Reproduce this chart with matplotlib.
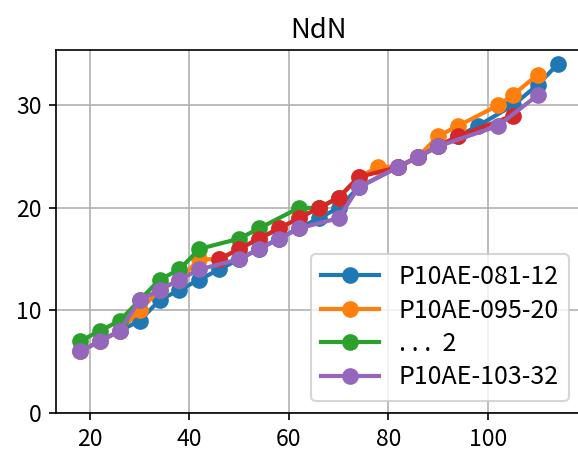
import matplotlib
matplotlib.use('Agg')
from matplotlib import pyplot as plt

plt.rcParams['font.family'] = ['Noto Sans CJK JP', 'DejaVu Sans']
plt.rcParams['font.size'] = 11

# series (x, y)
blue_x = [18, 22, 26, 30, 34, 38, 42, 46, 50, 54, 58, 62, 66, 70, 74, 82, 86, 90, 94, 98, 105, 110, 114]
blue_y = [6, 7, 8, 9, 11, 12, 13, 14, 15, 16, 17, 18, 19, 20, 22, 24, 25, 26, 27, 28, 30, 32, 34]

orange_x = [18, 22, 26, 30, 34, 38, 42, 46, 50, 54, 58, 62, 66, 70, 74, 78, 82, 86, 90, 94, 102, 105, 110]
orange_y = [6, 7, 8, 10, 12, 13, 15, 15, 16, 17, 18, 19, 20, 21, 23, 24, 24, 25, 27, 28, 30, 31, 33]

green_x = [18, 22, 26, 30, 34, 38, 42, 50, 54, 62, 66, 70]
green_y = [7, 8, 9, 11, 13, 14, 16, 17, 18, 20, 20, 21]

red_x = [46, 50, 54, 58, 62, 66, 70, 74, 82, 86, 90, 94, 105]
red_y = [15, 16, 17, 18, 19, 20, 21, 23, 24, 25, 26, 27, 29]

purple_x = [18, 22, 26, 30, 34, 38, 42, 50, 54, 58, 62, 70, 74, 82, 86, 90, 102, 110]
purple_y = [6, 7, 8, 11, 12, 13, 14, 15, 16, 17, 18, 19, 22, 24, 25, 26, 28, 31]

labels = ['P10AE-081-12', 'P10AE-095-20', '. . .  2', '_nolegend_', 'P10AE-103-32']
y_ticks = [0, 10, 20, 30]

fig = plt.figure(figsize=(578 / 150, 455 / 150), dpi=150)
ax = fig.add_axes([56 / 578, 42 / 455, 525.5 / 578, 363 / 455])

ax.plot(blue_x, blue_y, marker='o', lw=2, ms=7, label=labels[0])
ax.plot(orange_x, orange_y, marker='o', lw=2, ms=7, label=labels[1])
ax.plot(green_x, green_y, marker='o', lw=2, ms=7, label=labels[2])
ax.plot(red_x, red_y, marker='o', lw=2, ms=7, label=labels[3])
ax.plot(purple_x, purple_y, marker='o', lw=2, ms=7, label=labels[4])

ax.set_ylim(bottom=0)
ax.set_yticks(y_ticks)
ax.grid(True)
ax.set_title('NdN')
ax.legend(loc='lower right', fontsize=12, labelspacing=0.3, handlelength=2.3)

fig.savefig('out.png', dpi=150)
